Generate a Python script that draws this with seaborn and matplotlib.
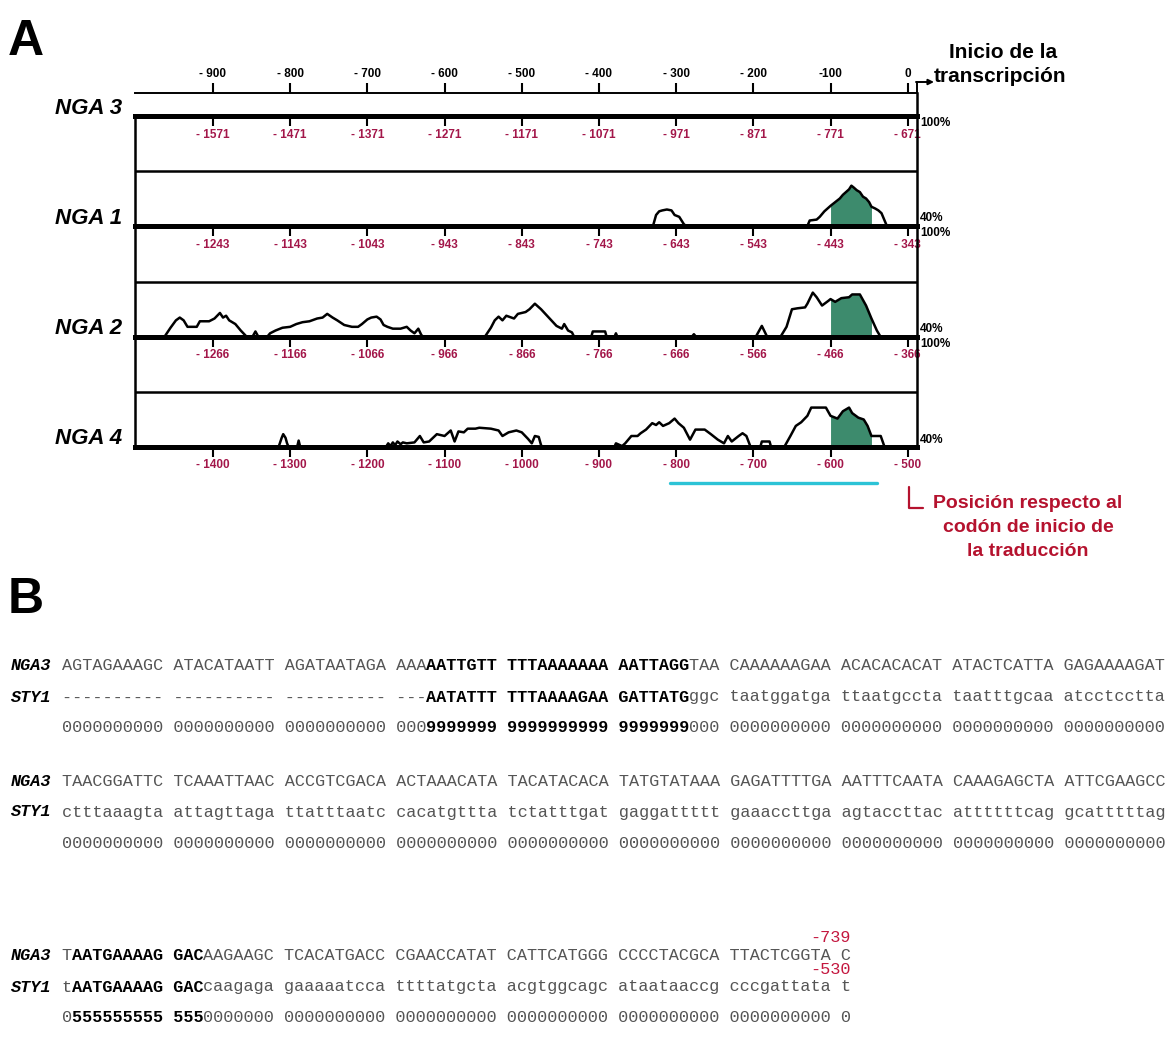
import numpy as np
import pandas as pd
import matplotlib.pyplot as plt
import seaborn as sns

sns.set_style("white")
plt.rcParams["font.family"] = ["Liberation Sans", "DejaVu Sans"]
plt.rcParams["text.color"] = "black"
plt.rcParams["xtick.color"] = "black"

# ── Data ───────────────────────────────────────────────────────────────────────
TICKS = [-900, -800, -700, -600, -500, -400, -300, -200, -100, 0]
TOP_LABELS = ["- 900", "- 800", "- 700", "- 600", "- 500", "- 400",
              "- 300", "- 200", "-100", "0"]
NGA3_LABELS = [-1571, -1471, -1371, -1271, -1171, -1071, -971, -871, -771, -671]
NGA1_LABELS = [-1243, -1143, -1043, -943, -843, -743, -643, -543, -443, -343]
NGA2_LABELS = [-1266, -1166, -1066, -966, -866, -766, -666, -566, -466, -366]
NGA4_LABELS = [-1400, -1300, -1200, -1100, -1000, -900, -800, -700, -600, -500]

# identity profiles (% , 40 = baseline), positions relative to transcription start
NGA1_POS = [-330, -326, -322, -318, -312, -306, -302, -296, -290, -287,
            -130, -127, -118, -114, -108, -100, -94, -88, -84, -80, -76, -73,
            -70, -66, -62, -58, -54, -50, -47, -42, -38, -34, -30, -27]
NGA1_ID = [40, 52, 56, 57, 58, 57, 52, 50, 42, 40,
           40, 46, 47, 50, 56, 62, 66, 70, 74, 77, 80, 84,
           82, 79, 77, 72, 70, 66, 61, 59, 57, 54, 46, 40]

NGA2_POS = [-963, -955, -948, -943, -938, -933, -921, -917, -905, -898, -891,
            -887, -883, -879, -871, -864, -856,
            -849, -845, -841, -830, -826, -819, -810, -800, -792, -784, -775,
            -765, -758, -752, -745, -739, -730, -720, -712, -707, -700, -695,
            -688, -683, -679, -674, -667, -657, -649, -644, -639, -634, -630, -627,
            -548, -540, -535, -530, -525, -520, -510, -505, -495, -490, -483,
            -475, -465, -455, -448, -445, -440, -435, -432,
            -410, -408, -392, -390, -380, -378, -376, -280, -277, -274, -197,
            -189, -182, -165, -157, -150, -143, -133, -130, -123, -118, -111,
            -103, -100, -94, -86, -76, -72, -62, -54, -47, -40, -35]
NGA2_ID = [40, 50, 58, 61, 58, 51, 51, 57, 57, 60, 66,
           61, 63, 58, 54, 47, 40,
           40, 46, 40, 40, 44, 47, 50, 51, 54, 56, 57,
           60, 61, 65, 61, 58, 53, 51, 51, 54, 59, 61,
           62, 59, 53, 51, 49, 49, 51, 47, 44, 49, 42, 40,
           40, 50, 58, 62, 58, 63, 60, 65, 67, 70, 76,
           70, 61, 52, 49, 54, 47, 45, 40,
           40, 46, 46, 40, 40, 44, 40, 40, 43, 40, 40,
           52, 40, 40, 51, 70, 71, 72, 76, 88, 83, 74,
           79, 81, 78, 82, 83, 86, 86, 74, 60, 47, 40]

NGA4_POS = [-815, -811, -809, -806, -804, -802, -791, -789, -787,
            -676, -673, -670, -667, -664, -661, -657, -654, -649, -639, -632,
            -627, -620, -610, -600, -592, -587, -582, -575, -570, -560, -555,
            -540, -530, -525, -517, -507, -500, -492, -487, -483, -478, -475, -473,
            -380, -378, -370, -366, -358, -350, -346, -339, -331, -326, -322,
            -317, -309, -302, -297, -290, -282, -275, -263, -255, -246, -238,
            -233, -228, -219, -214, -209, -204, -200, -191, -189, -179, -177,
            -160, -152, -145, -138, -130, -125, -106, -100, -91, -84, -76, -72,
            -64, -57, -52, -47, -35, -30]
NGA4_ID = [40, 50, 54, 50, 44, 40, 40, 47, 40,
           40, 44, 41, 45, 42, 46, 43, 45, 44, 45, 52,
           45, 46, 54, 52, 58, 46, 57, 56, 60, 60, 61,
           60, 58, 52, 56, 58, 56, 49, 44, 52, 51, 42, 40,
           40, 44, 41, 44, 52, 52, 55, 59, 66, 64, 67,
           63, 66, 71, 66, 61, 48, 59, 59, 54, 48, 44,
           52, 46, 52, 55, 52, 41, 40, 40, 46, 46, 40,
           40, 52, 63, 67, 74, 83, 83, 74, 71, 79, 83, 77,
           72, 70, 63, 52, 52, 40]

GREEN_RANGE = (-100, -47)
CYAN_RANGE_NGA4 = (-808, -540)   # in NGA4 coordinates (offset -500)

# Panel B alignment (text, bold)
BLOCKS = [
    [("NGA3", [("AGTAGAAAGC ATACATAATT AGATAATAGA AAA", False),
               ("AATTGTT TTTAAAAAAA AATTAGG", True),
               ("TAA CAAAAAAGAA ACACACACAT ATACTCATTA GAGAAAAGAT", False)]),
     ("STY1", [("---------- ---------- ---------- ---", False),
               ("AATATTT TTTAAAAGAA GATTATG", True),
               ("ggc taatggatga ttaatgccta taatttgcaa atcctcctta", False)]),
     ("", [("0000000000 0000000000 0000000000 000", False),
           ("9999999 9999999999 9999999", True),
           ("000 0000000000 0000000000 0000000000 0000000000", False)])],
    [("NGA3", [("TAACGGATTC TCAAATTAAC ACCGTCGACA ACTAAACATA TACATACACA "
                "TATGTATAAA GAGATTTTGA AATTTCAATA CAAAGAGCTA ATTCGAAGCC", False)]),
     ("STY1", [("ctttaaagta attagttaga ttatttaatc cacatgttta tctatttgat "
                "gaggattttt gaaaccttga agtaccttac attttttcag gcatttttag", False)]),
     ("", [(" ".join(["0000000000"] * 10), False)])],
    [("NGA3", [("T", False), ("AATGAAAAG GAC", True),
               ("AAGAAGC TCACATGACC CGAACCATAT CATTCATGGG CCCCTACGCA TTACTCGGTA C", False)]),
     ("STY1", [("t", False), ("AATGAAAAG GAC", True),
               ("caagaga gaaaaatcca ttttatgcta acgtggcagc ataataaccg cccgattata t", False)]),
     ("", [("0", False), ("555555555 555", True),
           ("0000000 0000000000 0000000000 0000000000 0000000000 0000000000 0", False)])],
]
BLOCK_Y = [[666, 697, 728], [781, 812, 843], [955, 987, 1018]]
END_MARKS = {(2, 0): "-739", (2, 1): "-530"}

# ── Style ──────────────────────────────────────────────────────────────────────
W, H = 1174, 1046
RED = "#a3174a"
DARK_RED = "#b5122e"
GREEN = "#3d8b6d"
CYAN = "#2cc3d6"
MONO = "Liberation Mono"
CW = 10.12
X0 = 11
MONO_SIZE = CW / 0.6 * 72 / 100
XL, XR = 135, 917
XLIM = (-1001, 12)

fig = plt.figure(figsize=(W / 100, H / 100), dpi=100)

# overlay axes in pixel coordinates for annotations
over = fig.add_axes([0, 0, 1, 1], zorder=0)
over.set_xlim(0, W)
over.set_ylim(H, 0)
over.axis("off")


def px_rect(top, bottom):
    return [XL / W, 1 - bottom / H, (XR - XL) / W, (bottom - top) / H]


def style_row(ax, labels, left=True):
    ax.set_facecolor("none")
    ax.set_xlim(*XLIM)
    ax.set_yticks([])
    ax.set_xticks(TICKS)
    ax.set_xticklabels([f"- {abs(v)}" for v in labels], fontsize=8.5,
                       fontweight="bold")
    ax.tick_params(axis="x", direction="out", length=7, width=1.5, pad=2,
                   color="black", labelcolor=RED, bottom=True)
    ax.spines["top"].set_visible(False)
    ax.spines["bottom"].set_linewidth(3.6)
    ax.spines["right"].set_linewidth(1.8)
    ax.spines["left"].set_linewidth(1.8)
    ax.spines["left"].set_visible(left)
    for s in ax.spines.values():
        s.set_color("black")
    ax.set_xlabel("")
    ax.set_ylabel("")


# NGA3 row with the top (transcription) axis
ax3 = fig.add_axes(px_rect(93, 116), zorder=1)
style_row(ax3, NGA3_LABELS, left=False)
ax3.set_ylim(0, 1)
sec = ax3.secondary_xaxis("top")
sec.set_xticks(TICKS)
sec.set_xticklabels(TOP_LABELS, fontsize=8.5, fontweight="bold")
sec.tick_params(direction="out", length=7, width=1.5, pad=2, colors="black")
sec.spines["top"].set_linewidth(1.4)
sec.spines["top"].set_color("black")

rows = [(116, 226, NGA1_LABELS, NGA1_POS, NGA1_ID),
        (226, 337, NGA2_LABELS, NGA2_POS, NGA2_ID),
        (337, 447, NGA4_LABELS, NGA4_POS, NGA4_ID)]
row_axes = []
for top, bottom, labels, pos, ident in rows:
    ax = fig.add_axes(px_rect(top, bottom), zorder=1)
    df = pd.DataFrame({"pos": pos, "id": ident})
    x = np.array(pos, dtype=float)
    y = np.array(ident, dtype=float)
    ax.fill_between(x, 40, y, where=(x >= GREEN_RANGE[0]) & (x <= GREEN_RANGE[1]),
                    color=GREEN, lw=0, zorder=1.5)
    sns.lineplot(data=df, x="pos", y="id", ax=ax, color="black", lw=1.8,
                 sort=False, estimator=None, zorder=2)
    ax.axhline(100, color="black", lw=1.8)
    ax.set_ylim(40, 160)
    style_row(ax, labels)
    row_axes.append(ax)

ax4 = row_axes[-1]
offset4 = NGA4_LABELS[-1] - TICKS[-1]
ax4.plot([CYAN_RANGE_NGA4[0] - offset4, CYAN_RANGE_NGA4[1] - offset4],
         [-0.33, -0.33], color=CYAN, lw=2.4, transform=ax4.get_xaxis_transform(),
         clip_on=False)

# ── Panel A annotations ────────────────────────────────────────────────────────
over.text(8, 42, "A", fontsize=36, fontweight="bold", ha="left", va="center")
over.text(8, 600, "B", fontsize=36, fontweight="bold", ha="left", va="center")

for name, yy in [("NGA 3", 108), ("NGA 1", 219), ("NGA 2", 329), ("NGA 4", 439)]:
    over.text(122, yy, name, fontsize=16, fontweight="bold", fontstyle="italic",
              ha="right", va="center")

for lab, yy in [("100%", 123), ("40%", 218), ("100%", 233), ("40%", 329),
                ("100%", 344), ("40%", 440)]:
    over.text(920, yy, lab, fontsize=8.5, fontweight="bold", ha="left", va="center")

over.text(1003, 53, "Inicio de la", fontsize=15, fontweight="bold",
          ha="center", va="center")
over.text(1000, 76, "transcripción", fontsize=15, fontweight="bold",
          ha="center", va="center")
over.plot([917, 917], [93, 82], color="black", lw=1.4)
over.annotate("", xy=(934, 82), xytext=(916, 82),
              arrowprops=dict(arrowstyle="-|>", lw=1.4, color="black",
                              mutation_scale=8, shrinkA=0, shrinkB=0))

over.plot([909, 909, 923], [487, 508, 508], color=DARK_RED, lw=1.6)
for txt, yy in [("Posición respecto al", 503), ("codón de inicio de", 528),
                ("la traducción", 552)]:
    over.text(1028, yy, txt, fontsize=14, fontweight="bold", color=DARK_RED,
              ha="center", va="center")

# ── Panel B alignment ──────────────────────────────────────────────────────────
for bi, block in enumerate(BLOCKS):
    for li, (label, segments) in enumerate(block):
        yy = BLOCK_Y[bi][li]
        if label:
            over.text(X0, yy, label, family=MONO, fontweight="bold",
                      fontstyle="italic", fontsize=MONO_SIZE, ha="left",
                      va="center", color="black")
        col = 5
        for text, bold in segments:
            over.text(X0 + col * CW, yy, text, family=MONO,
                      fontweight="bold" if bold else "normal",
                      color="black" if bold else "#555555",
                      fontsize=MONO_SIZE, ha="left", va="center")
            col += len(text)
        if (bi, li) in END_MARKS:
            over.text(X0 + col * CW, yy - 17, END_MARKS[(bi, li)], family=MONO,
                      color="#c4173f", fontsize=MONO_SIZE, ha="right", va="center")

fig.savefig("out.png", dpi=100)
